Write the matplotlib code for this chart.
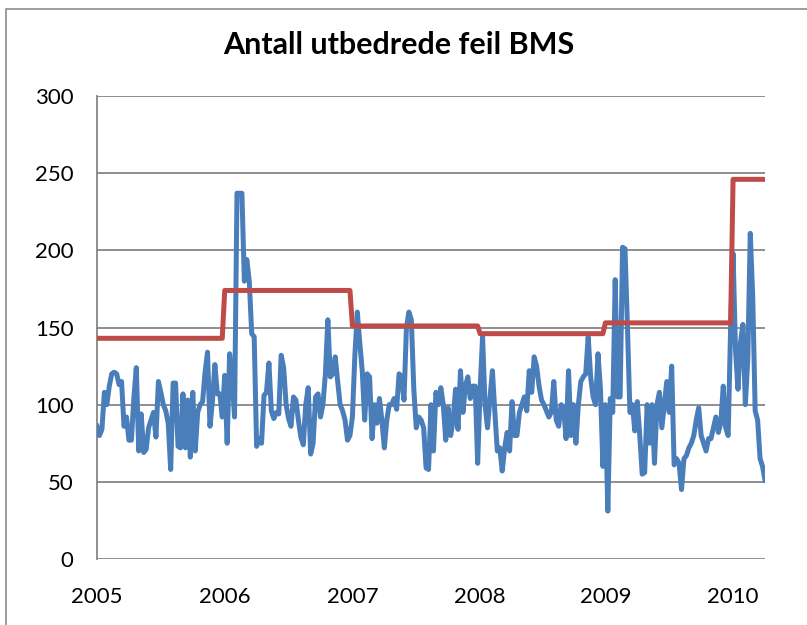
import numpy as np
import matplotlib
matplotlib.use("Agg")
import matplotlib.pyplot as plt
from matplotlib.patches import Rectangle

# Weekly number of repaired faults, one list per year
years = ["2005", "2006", "2007", "2008", "2009", "2010"]

weekly_2005 = [86, 80, 84, 108, 100, 112, 120, 121, 120, 113, 115, 86, 92, 77, 77, 104,
               124, 70, 94, 69, 71, 85, 90, 95, 79, 115, 108, 100, 96, 88, 58, 114, 114,
               73, 72, 107, 72, 103, 66, 108, 70, 95, 100, 102, 121, 134,
               86, 102, 126, 107, 107, 92]
weekly_2006 = [119, 75, 133, 118, 92, 237, 237, 237, 180, 194, 180, 146, 144, 73, 78, 75,
               106, 108, 127, 96, 91, 95, 94, 132, 124, 100, 91, 86, 105, 103, 90, 79, 74,
               100, 111, 68, 75, 105, 107,
               92, 100, 120, 155, 118, 120, 131, 115, 100, 96, 90, 77, 80]
weekly_2007 = [92, 132, 160, 140, 122, 90, 120, 118, 78, 100, 88, 104, 90, 72, 90, 100,
               100, 104, 97, 120, 118, 103, 150, 160, 155, 110, 85, 92, 90, 85, 59, 58, 100,
               70, 108, 100, 111, 100, 77, 98, 80, 90, 110, 84, 122, 95, 112, 118, 104,
               112, 112, 62]
weekly_2008 = [110, 144, 100, 85, 104, 122, 95, 70, 72, 57, 72, 82, 70, 102, 80, 80, 95,
               100, 105, 96, 122, 108, 131, 125, 112, 103, 100,
               96, 92, 95, 115, 90, 86, 100, 98, 78, 122, 80, 100, 75, 100, 115, 118, 120,
               144, 118, 105, 100, 133, 110, 60]
weekly_2009 = [100, 31, 104, 95, 181, 105, 105, 202, 201, 150, 95, 100, 83, 102, 80, 55,
               56, 100, 75, 100,
               62, 100, 108, 85, 100, 115, 95, 125, 61, 65, 62, 45, 65, 67, 72, 75, 80, 90,
               98, 80, 75, 70, 78, 78, 85, 92, 82, 88, 112, 85, 80, 150]
weekly_2010 = [198, 135, 110, 140, 152, 100, 130, 211, 170, 96, 90, 65, 60, 51]

# Yearly reference level (red line)
yearly_level = [143, 174, 151, 146, 153, 246]

y_ticks = [0, 50, 100, 150, 200, 250, 300]

weekly = [weekly_2005, weekly_2006, weekly_2007, weekly_2008, weekly_2009, weekly_2010]
counts = [len(w) for w in weekly]
values = np.concatenate(weekly)
level = np.repeat(yearly_level, counts)
x = np.arange(len(values))
year_start = np.concatenate([[0], np.cumsum(counts)[:-1]])

BLUE = "#4A7EBB"
RED = "#BE4B48"
GRID = "#868686"

plt.rcParams["font.family"] = ["Lato", "DejaVu Sans"]

fig = plt.figure(figsize=(8.07, 6.25), dpi=100)
fig.patch.set_facecolor("white")

# chart frame (partly outside the canvas on the right and bottom)
fig.patches.append(Rectangle((6 / 807, -0.1), 1.2, (625 - 9) / 625 + 0.1,
                             transform=fig.transFigure, fill=False,
                             edgecolor="#8C8C8C", linewidth=1.2))

ax = fig.add_axes([97 / 807, (625 - 559) / 625, 668 / 807, 463 / 625])
ax.set_facecolor("white")

ax.plot(x, values, color=BLUE, linewidth=3.6, solid_joinstyle="round", zorder=3)
ax.plot(x, level, color=RED, linewidth=3.6, solid_joinstyle="round", zorder=4)

ax.set_xlim(0, len(values) - 1)
ax.set_ylim(0, 300)
ax.set_yticks(y_ticks)
ax.set_yticklabels([str(v) for v in y_ticks])
ax.set_xticks(year_start)
ax.set_xticklabels(years)

ax.grid(axis="y", color=GRID, linewidth=1.3)
ax.set_axisbelow(True)
for side in ["top", "right", "bottom"]:
    ax.spines[side].set_visible(False)
ax.spines["left"].set_color(GRID)
ax.spines["left"].set_linewidth(1.3)

ax.tick_params(axis="both", length=0, labelsize=16, colors="#000000")
ax.tick_params(axis="y", pad=17)
ax.tick_params(axis="x", pad=20)

fig.text(399 / 807, 1 - 45 / 625, "Antall utbedrede feil BMS", ha="center", va="center",
         fontsize=22, fontweight="bold")

fig.savefig("out.png", dpi=100)
